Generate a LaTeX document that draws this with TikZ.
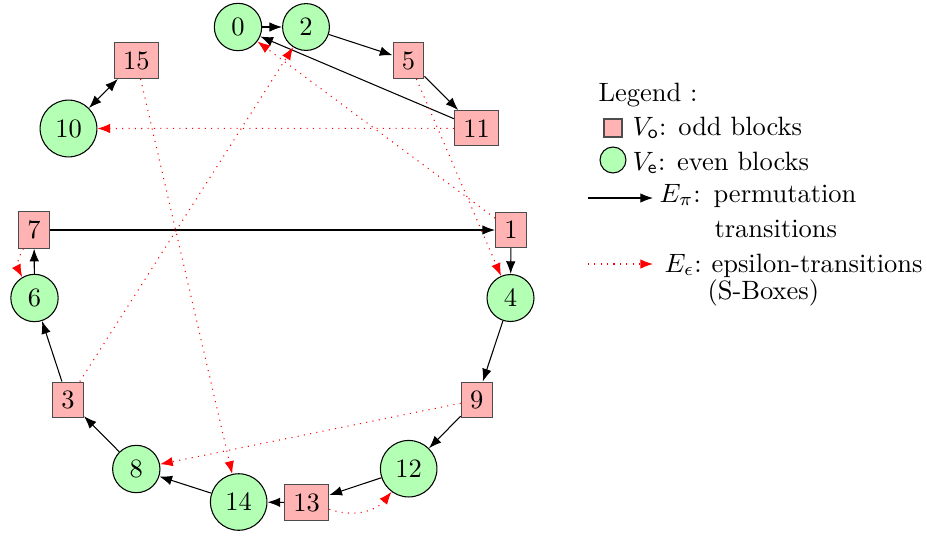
\documentclass[tikz,border=0pt]{standalone}
\usepackage{amsmath,amssymb}
\usetikzlibrary{arrows.meta,calc,positioning}
\definecolor{blockred}{RGB}{255,179,179}
\definecolor{blockgreen}{RGB}{179,255,179}
\begin{document}
\begin{tikzpicture}[>=Latex,x=.3774pt,y=.3774pt,
 oddb/.style={rectangle,draw=black!70,fill=blockred},
 evenb/.style={circle,draw=black,fill=blockgreen},
 perm/.style={->,black},
 eps/.style={->,red,dotted},
 legtxt/.style={anchor=base west,inner sep=0pt}]
% coordinates in pixels of the layout, y pointing up (negative)
\useasboundingbox (0,0) rectangle (927,-536);
\node[evenb] (b0) at (238,-27) {0};
\node[evenb] (b2) at (306,-27) {2};
\node[oddb] (b5) at (408.5,-60.5) {5};
\node[oddb] (b11) at (476.5,-128.3) {11};
\node[oddb] (b15) at (136.3,-60.5) {15};
\node[evenb] (b10) at (68.5,-128.5) {10};
\node[oddb] (b7) at (34,-230) {7};
\node[oddb] (b1) at (511,-230) {1};
\node[evenb] (b6) at (34.5,-298) {6};
\node[evenb] (b4) at (510.5,-298) {4};
\node[oddb] (b3) at (68,-400) {3};
\node[oddb] (b9) at (476.7,-400) {9};
\node[evenb] (b8) at (136.3,-469) {8};
\node[evenb] (b12) at (408.7,-468.7) {12};
\node[evenb] (b14) at (238.7,-502) {14};
\node[oddb] (b13) at (306.7,-502.5) {13};
\draw[perm] (b0)--(b2);
\draw[perm] (b2)--(b5);
\draw[perm] (b5)--(b11);
\draw[perm] (b11)--(b0);
\draw[perm,<->] (b15)--(b10);
\draw[perm] (b7)--(b1);
\draw[perm] (b1)--(b4);
\draw[perm] (b4)--(b9);
\draw[perm] (b9)--(b12);
\draw[perm] (b12)--(b13);
\draw[perm] (b13)--(b14);
\draw[perm] (b14)--(b8);
\draw[perm] (b8)--(b3);
\draw[perm] (b3)--(b6);
\draw[perm] (b6)--(b7);
\draw[eps] (b11)--(b10);
\draw[eps] (b1)--(b0);
\draw[eps] (b3)--(b2);
\draw[eps] (b5)--(b4);
\draw[eps] (b15)--(b14);
\draw[eps] (b9)--(b8);
\draw[eps] (b13) to[bend right=35] (b12);
\draw[eps] (b7) to[bend right=30] (b6);
% legend
\node[legtxt] (legt) at (598,-101) {Legend :};
\node[oddb,minimum size=6.8pt,inner sep=0pt] (lego) at (613,-128) {};
\node[legtxt] (legot) at (632,-135) {$V_{\mathsf{o}}$: odd blocks};
\node[evenb,minimum size=9.8pt,inner sep=0pt] (lege) at (613,-160) {};
\node[legtxt] (leget) at (632,-170) {$V_{\mathsf{e}}$: even blocks};
\coordinate (lpa) at (588,-198);
\coordinate (lpb) at (653,-198);
\draw[perm] (lpa)--(lpb);
\node[legtxt] (legp) at (659,-202) {$E_\pi$:};
\node[legtxt] (legpa) at (713,-202) {permutation};
\node[legtxt] (legpb) at (714,-237) {transitions};
\coordinate (lea) at (588,-264);
\coordinate (leb) at (653,-264);
\draw[eps] (lea)--(leb);
\node[legtxt] (lege1) at (664,-272) {$E_\epsilon$:};
\node[legtxt] (lege2) at (711,-272) {epsilon-transitions};
\node[legtxt] (lege3) at (707,-299) {(S-Boxes)};
\end{tikzpicture}
\end{document}
